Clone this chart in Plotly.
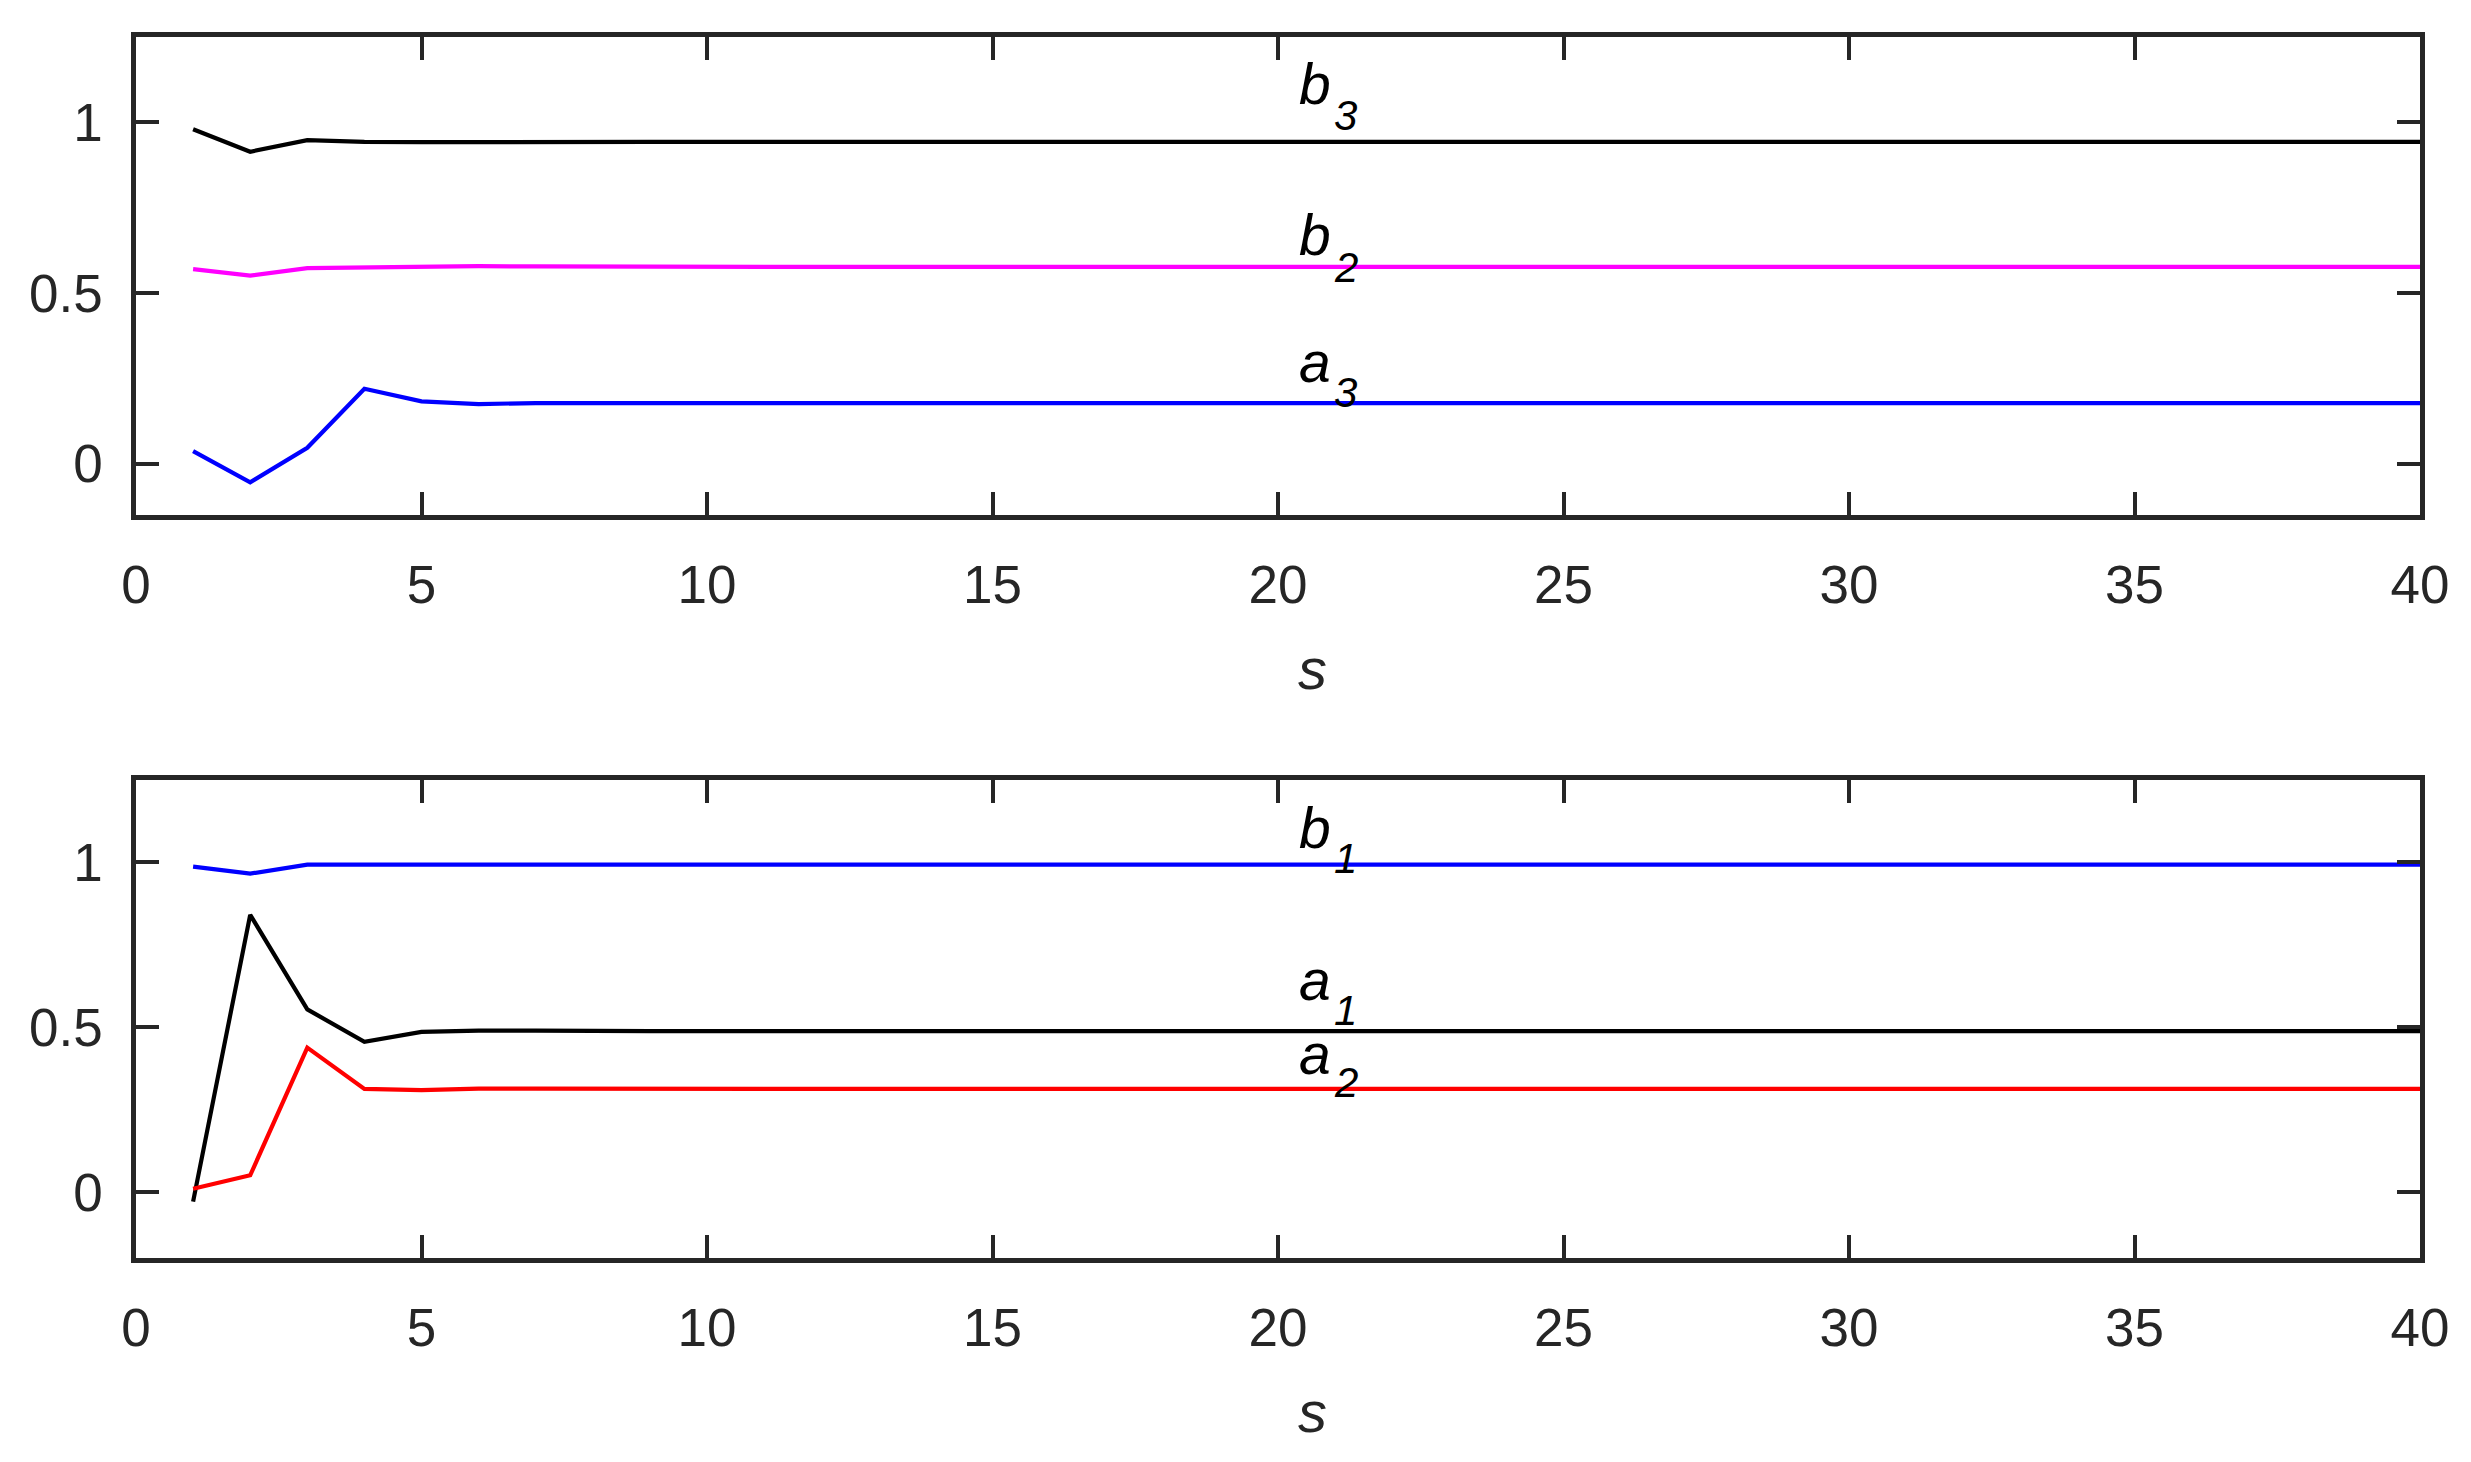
import plotly.graph_objects as go

s = list(range(1, 41))

# top panel series
b3 = [0.980, 0.914, 0.948, 0.943, 0.942, 0.943, 0.943, 0.943, 0.943, 0.943,
      0.943, 0.943, 0.943, 0.943, 0.943, 0.943, 0.943, 0.943, 0.943, 0.943,
      0.943, 0.943, 0.943, 0.943, 0.943, 0.943, 0.943, 0.943, 0.943, 0.943,
      0.943, 0.943, 0.943, 0.943, 0.943, 0.943, 0.943, 0.943, 0.943, 0.943]
b2 = [0.570, 0.551, 0.573, 0.576, 0.579, 0.579, 0.578, 0.577, 0.577, 0.577,
      0.577, 0.577, 0.577, 0.577, 0.577, 0.577, 0.577, 0.577, 0.577, 0.577,
      0.577, 0.577, 0.577, 0.577, 0.577, 0.577, 0.577, 0.577, 0.577, 0.577,
      0.577, 0.577, 0.577, 0.577, 0.577, 0.577, 0.577, 0.577, 0.577, 0.577]
a3 = [0.037, -0.054, 0.047, 0.220, 0.183, 0.175, 0.178, 0.178, 0.178, 0.178,
      0.178, 0.178, 0.178, 0.178, 0.178, 0.178, 0.178, 0.178, 0.178, 0.178,
      0.178, 0.178, 0.178, 0.178, 0.178, 0.178, 0.178, 0.178, 0.178, 0.178,
      0.178, 0.178, 0.178, 0.178, 0.178, 0.178, 0.178, 0.178, 0.178, 0.178]

# bottom panel series
b1 = [0.987, 0.966, 0.993, 0.993, 0.992, 0.993, 0.993, 0.993, 0.993, 0.993,
      0.993, 0.993, 0.993, 0.993, 0.993, 0.993, 0.993, 0.993, 0.993, 0.993,
      0.993, 0.993, 0.993, 0.993, 0.993, 0.993, 0.993, 0.993, 0.993, 0.993,
      0.993, 0.993, 0.993, 0.993, 0.993, 0.993, 0.993, 0.993, 0.993, 0.993]
a1 = [-0.029, 0.841, 0.554, 0.456, 0.486, 0.490, 0.490, 0.488, 0.488, 0.488,
      0.488, 0.488, 0.488, 0.488, 0.488, 0.488, 0.488, 0.488, 0.488, 0.488,
      0.488, 0.488, 0.488, 0.488, 0.488, 0.488, 0.488, 0.488, 0.488, 0.488,
      0.488, 0.488, 0.488, 0.488, 0.488, 0.488, 0.488, 0.488, 0.488, 0.488]
a2 = [0.010, 0.051, 0.438, 0.313, 0.309, 0.314, 0.314, 0.313, 0.313, 0.313,
      0.313, 0.313, 0.313, 0.313, 0.313, 0.313, 0.313, 0.313, 0.313, 0.313,
      0.313, 0.313, 0.313, 0.313, 0.313, 0.313, 0.313, 0.313, 0.313, 0.313,
      0.313, 0.313, 0.313, 0.313, 0.313, 0.313, 0.313, 0.313, 0.313, 0.313]

x_ticks = [0, 5, 10, 15, 20, 25, 30, 35, 40]
y_ticks = [0, 0.5, 1]
y_tick_text = ["0", "0.5", "1"]
x_title = "s"

# curve labels: (panel, letter, subscript, x_letter, x_sub, y_letter, y_sub)
labels = [
    ("top", "b", "3", 20.34, 20.95, 1.112, 1.021),
    ("top", "b", "2", 20.34, 20.95, 0.670, 0.575),
    ("top", "a", "3", 20.34, 20.95, 0.298, 0.209),
    ("bot", "b", "1", 20.34, 20.95, 1.103, 1.011),
    ("bot", "a", "1", 20.34, 20.95, 0.642, 0.550),
    ("bot", "a", "2", 20.34, 20.95, 0.419, 0.331),
]

FONT = "Liberation Sans, Arial, sans-serif"
AX = "#262626"
LW = 4.2

fig = go.Figure()
fig.add_trace(go.Scatter(x=s, y=b3, mode="lines", line=dict(color="#000000", width=LW), xaxis="x", yaxis="y"))
fig.add_trace(go.Scatter(x=s, y=b2, mode="lines", line=dict(color="#FF00FF", width=LW), xaxis="x", yaxis="y"))
fig.add_trace(go.Scatter(x=s, y=a3, mode="lines", line=dict(color="#0000FF", width=LW), xaxis="x", yaxis="y"))
fig.add_trace(go.Scatter(x=s, y=b1, mode="lines", line=dict(color="#0000FF", width=LW), xaxis="x2", yaxis="y2"))
fig.add_trace(go.Scatter(x=s, y=a1, mode="lines", line=dict(color="#000000", width=LW), xaxis="x2", yaxis="y2"))
fig.add_trace(go.Scatter(x=s, y=a2, mode="lines", line=dict(color="#FF0000", width=LW), xaxis="x2", yaxis="y2"))

ann = []
for panel, letter, sub, xl, xs, yl, ys in labels:
    xr, yr = ("x", "y") if panel == "top" else ("x2", "y2")
    ann.append(dict(x=xl, y=yl, xref=xr, yref=yr, text=letter, showarrow=False,
                    xanchor="left", yanchor="middle",
                    font=dict(family=FONT, size=57, color="#000000", style="italic")))
    ann.append(dict(x=xs, y=ys, xref=xr, yref=yr, text=sub, showarrow=False,
                    xanchor="left", yanchor="middle",
                    font=dict(family=FONT, size=42, color="#000000", style="italic")))

# x-axis titles (placed like the original, slightly right of centre)
for xr, yr in (("x", "y domain"), ("x2", "y2 domain")):
    ann.append(dict(x=20.6, y=-0.322, xref=xr, yref=yr, text=x_title, showarrow=False,
                    xanchor="center", yanchor="middle",
                    font=dict(family=FONT, size=58, color=AX, style="italic")))

def xaxis(anchor):
    return dict(range=[0, 40], tickvals=x_ticks, ticks="inside", ticklen=23, tickwidth=4,
                tickcolor=AX, showline=True, linecolor=AX, linewidth=4.5, mirror="allticks",
                showgrid=False, zeroline=False, anchor=anchor,
                tickfont=dict(family=FONT, size=53, color=AX),
                ticklabelstandoff=20)

def yaxis(anchor, rng, dom):
    return dict(range=rng, tickvals=y_ticks, ticktext=y_tick_text, ticks="inside", ticklen=23,
                tickwidth=4, tickcolor=AX, showline=True, linecolor=AX, linewidth=4.5,
                mirror="allticks", showgrid=False, zeroline=False, anchor=anchor, domain=dom,
                tickfont=dict(family=FONT, size=53, color=AX), ticklabelstandoff=18)

fig.update_layout(
    width=2471, height=1462,
    margin=dict(l=128, r=59, t=29, b=212),
    paper_bgcolor="white", plot_bgcolor="white",
    showlegend=False,
    xaxis=xaxis("y"),
    yaxis=yaxis("x", [-0.15, 1.25], [0.6085, 1.0]),
    xaxis2=xaxis("y2"),
    yaxis2=yaxis("x2", [-0.2, 1.25], [0.0, 0.3915]),
    annotations=ann,
)

fig.write_html("out.html")
